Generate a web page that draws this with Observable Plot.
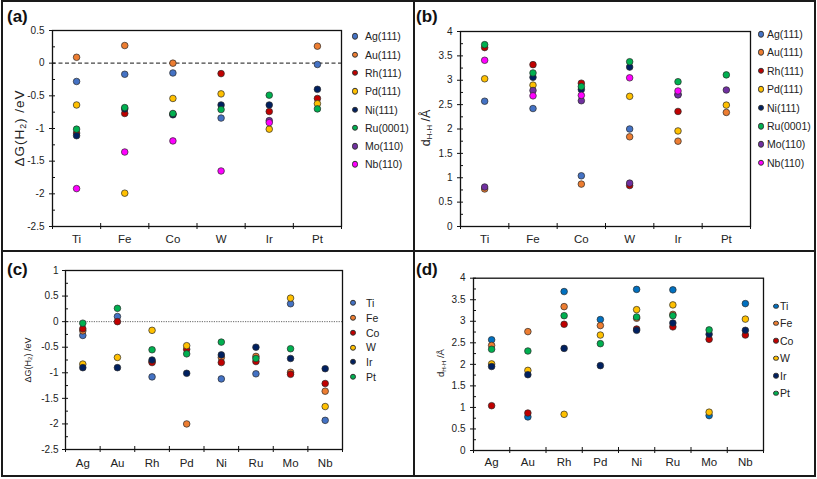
<!DOCTYPE html>
<html><head><meta charset="utf-8">
<script src="https://cdn.jsdelivr.net/npm/d3@7"></script>
<script src="https://cdn.jsdelivr.net/npm/@observablehq/plot@0.6"></script>
<style>
body{margin:0;background:#fff;}
#fig{position:relative;width:817px;height:479px;font-family:"Liberation Sans",Arial,sans-serif;overflow:hidden;background:#fff;}
.panel{position:absolute;}
.panel svg{background:transparent !important;}
.bline{position:absolute;background:#1a1a1a;}
.lab{position:absolute;font-weight:bold;font-size:17px;line-height:1;color:#111;}
.ytitle{position:absolute;transform:translate(-50%,-50%) rotate(-90deg);white-space:nowrap;color:#222;line-height:1;}
.ytitle sub{font-size:65%;vertical-align:-0.25em;line-height:0;}
.leg{position:absolute;display:flex;align-items:center;white-space:nowrap;color:#222;line-height:1;transform:translateY(-50%);}
.leg .m{display:inline-block;border-radius:50%;border:0.7px solid #333;box-sizing:border-box;flex:none;}
</style></head><body><div id="fig"></div>
<script>
// ---------- Panel (a) & (b): categories and series ----------
const catsAB = ["Ti","Fe","Co","W","Ir","Pt"];
const namesAB = ["Ag(111)","Au(111)","Rh(111)","Pd(111)","Ni(111)","Ru(0001)","Mo(110)","Nb(110)"];
const colorsAB = ["#4472C4","#ED7D31","#C00000","#FFC000","#002060","#00B050","#7030A0","#FF00FF"];

// (a) ΔG(H2) /eV  — order Ti, Fe, Co, W, Ir, Pt
const aAg = [-0.28, -0.17, -0.15, -0.84, null, -0.02];
const aAu = [0.09, 0.27, 0.00, null, null, 0.26];
const aRh = [-1.07, -0.77, -0.78, -0.16, -0.74, -0.54];
const aPd = [-0.64, -1.99, -0.54, -0.47, -1.01, -0.62];
const aNi = [-1.11, -0.70, -0.79, -0.64, -0.64, -0.40];
const aRu = [-1.01, -0.68, -0.77, -0.71, -0.49, -0.70];
const aMo = [null, null, null, null, -0.88, null];
const aNb = [-1.92, -1.36, -1.19, -1.65, -0.91, null];

// (b) d(H-H) /Å
const bAg = [2.57, 2.42, 1.04, 2.00, null, null];
const bAu = [0.77, null, 0.87, 1.84, 1.75, 2.34];
const bRh = [3.67, 3.32, 2.94, 0.84, 2.36, null];
const bPd = [3.03, 2.90, null, 2.67, 1.96, 2.49];
const bNi = [null, 3.06, 2.81, 3.27, 2.71, null];
const bRu = [3.73, 3.15, 2.87, 3.38, 2.97, 3.11];
const bMo = [0.81, 2.79, 2.58, 0.89, 2.70, 2.80];
const bNb = [3.41, 2.68, 2.69, 3.05, 2.78, null];

// ---------- Panel (c) & (d) ----------
const catsCD = ["Ag","Au","Rh","Pd","Ni","Ru","Mo","Nb"];
const namesCD = ["Ti","Fe","Co","W","Ir","Pt"];
const colorsC = ["#4472C4","#ED7D31","#C00000","#FFC000","#002060","#00B050"];
const colorsD = ["#0070C0","#ED7D31","#C00000","#FFC000","#002060","#00B050"];

// (c) ΔG(H2) /eV — order Ag, Au, Rh, Pd, Ni, Ru, Mo, Nb
const cTi = [-0.27, 0.10, -1.08, null, -1.12, -1.02, 0.35, -1.93];
const cFe = [-0.18, null, -0.78, -2.00, -0.70, -0.68, -0.99, -1.36];
const cCo = [-0.14, 0.00, -0.80, -0.54, -0.80, -0.78, -1.03, -1.21];
const cW  = [-0.83, -0.70, -0.17, -0.47, null, null, 0.46, -1.66];
const cIr = [-0.90, -0.90, -0.75, -1.01, -0.65, -0.50, -0.72, -0.92];
const cPt = [-0.03, 0.26, -0.55, -0.63, -0.40, -0.72, -0.53, null];

// (d) d(H-H) /Å
const dTi = [2.57, 0.78, 3.69, 3.04, 3.74, 3.73, 0.81, 3.41];
const dFe = [2.44, 2.76, 3.34, 2.90, 3.07, 3.16, null, null];
const dCo = [1.04, 0.87, 2.93, null, 2.82, 2.87, 2.58, 2.68];
const dW  = [2.01, 1.86, 0.84, 2.68, 3.27, 3.38, 0.89, 3.05];
const dIr = [1.95, 1.76, 2.37, 1.97, 2.79, 2.96, 2.70, 2.79];
const dPt = [2.35, 2.31, 3.13, 2.48, 3.10, 3.13, 2.80, null];

const fig = document.getElementById("fig");

function makePanel(o) {
  const n = o.cats.length;
  const data = [];
  o.names.forEach((s, si) => o.values[si].forEach((v, ci) => {
    if (v != null) data.push({i: ci, v, s});
  }));
  const [mt, mr, mb, ml] = o.margins;
  const plotW = o.width - ml - mr, plotH = o.height - mt - mb;
  const xPerPx = n / plotW;
  const yPerPx = (o.yDomain[1] - o.yDomain[0]) / plotH;
  const bounds = d3.range(n + 1).map(k => k - 0.5);
  const minors = o.yMajor.slice(0, -1).map(t => t + o.yStep / 2);
  const marks = [];
  if (o.zero) marks.push(Plot.ruleY([0], o.zero));
  marks.push(
    Plot.ruleY(o.yMajor, {y: d => d, x1: -0.5 - 3 * xPerPx, x2: -0.5 + 3 * xPerPx, stroke: "#111", strokeWidth: 1}),
    Plot.ruleY(minors, {y: d => d, x1: -0.5, x2: -0.5 + 3 * xPerPx, stroke: "#111", strokeWidth: 1}),
    Plot.ruleX(bounds, {x: d => d, y1: o.yDomain[0] - 3 * yPerPx, y2: o.yDomain[0] + 3 * yPerPx, stroke: "#111", strokeWidth: 1}),
    Plot.frame({stroke: "#111", strokeWidth: 1.3}),
    Plot.axisY({ticks: o.yMajor, tickSize: 0, tickPadding: o.yPad, tickFormat: d => String(d), fontSize: o.yFont, label: null}),
    Plot.axisX({ticks: d3.range(n), tickSize: 0, tickPadding: o.xPad, tickFormat: i => o.cats[i], fontSize: o.xFont, label: null}),
    Plot.dot(data, {x: "i", y: "v", fill: "s", r: 3.3, stroke: "#2a2a2a", strokeWidth: 0.7})
  );
  const svg = Plot.plot({
    width: o.width, height: o.height,
    marginTop: mt, marginRight: mr, marginBottom: mb, marginLeft: ml,
    style: {fontFamily: '"Liberation Sans", Arial, sans-serif', color: "#222", background: "transparent"},
    x: {domain: [-0.5, n - 0.5], label: null},
    y: {domain: o.yDomain, label: null},
    color: {domain: o.names, range: o.colors},
    marks
  });
  const wrap = document.createElement("div");
  wrap.className = "panel";
  wrap.style.left = o.left + "px";
  wrap.style.top = o.top + "px";
  wrap.appendChild(svg);
  fig.appendChild(wrap);
}

const ticks05 = (a, b) => d3.range(Math.round((b - a) / 0.5) + 1).map(k => +(a + k * 0.5).toFixed(2));

makePanel({
  cats: catsAB, names: namesAB, colors: colorsAB,
  values: [aAg, aAu, aRh, aPd, aNi, aRu, aMo, aNb],
  yDomain: [-2.5, 0.5], yMajor: ticks05(-2.5, 0.5), yStep: 0.5,
  left: 0, top: 0, width: 414, height: 251, margins: [30, 73, 25, 52],
  zero: {stroke: "#444", strokeDasharray: "4,2.5", strokeWidth: 1.4},
  yFont: 10, xFont: 11.5, yPad: 8, xPad: 8
});
makePanel({
  cats: catsAB, names: namesAB, colors: colorsAB,
  values: [bAg, bAu, bRh, bPd, bNi, bRu, bMo, bNb],
  yDomain: [0, 4], yMajor: ticks05(0, 4), yStep: 0.5,
  left: 414, top: 0, width: 403, height: 251, margins: [31, 67, 25, 46],
  zero: null,
  yFont: 10, xFont: 11.5, yPad: 8, xPad: 8
});
makePanel({
  cats: catsCD, names: namesCD, colors: colorsC,
  values: [cTi, cFe, cCo, cW, cIr, cPt],
  yDomain: [-2.5, 1], yMajor: ticks05(-2.5, 1), yStep: 0.5,
  left: 0, top: 251, width: 414, height: 228, margins: [19, 72, 30, 65],
  zero: {stroke: "#555", strokeDasharray: "1.2,1.2", strokeWidth: 0.9},
  yFont: 10, xFont: 11.5, yPad: 7, xPad: 9
});
makePanel({
  cats: catsCD, names: namesCD, colors: colorsD,
  values: [dTi, dFe, dCo, dW, dIr, dPt],
  yDomain: [0, 4], yMajor: ticks05(0, 4), yStep: 0.5,
  left: 414, top: 251, width: 403, height: 228, margins: [26.7, 54, 29, 59],
  zero: null,
  yFont: 10, xFont: 11.5, yPad: 8, xPad: 7
});

// ---------- figure borders ----------
function line(l, t, w, h) {
  const d = document.createElement("div");
  d.className = "bline";
  Object.assign(d.style, {left: l + "px", top: t + "px", width: w + "px", height: h + "px"});
  fig.appendChild(d);
}
line(1, 0, 815, 2);
line(1, 475, 815, 2);
line(1, 0, 2, 477);
line(814, 0, 2, 477);
line(413, 0, 2, 477);
line(1, 250, 815, 2);

// ---------- panel labels ----------
[["(a)", 7, 8], ["(b)", 416, 8], ["(c)", 7, 261], ["(d)", 416, 261]].forEach(([t, x, y]) => {
  const d = document.createElement("div");
  d.className = "lab"; d.textContent = t;
  d.style.left = x + "px"; d.style.top = y + "px";
  fig.appendChild(d);
});

// ---------- y-axis titles ----------
function ytitle(html, x, y, fs, ls) {
  const d = document.createElement("div");
  d.className = "ytitle"; d.innerHTML = html;
  Object.assign(d.style, {left: x + "px", top: y + "px", fontSize: fs + "px", letterSpacing: (ls || 0) + "px"});
  fig.appendChild(d);
}
ytitle("ΔG(H<sub>2</sub>) /eV", 20, 128, 13.5, 1.0);
ytitle("d<sub>H-H</sub> /Å", 426, 128, 12.5);
ytitle("ΔG(H<sub>2</sub>) /eV", 28, 360, 9);
ytitle("d<sub>H-H</sub> /Å", 441, 363, 9.5);

// ---------- legends ----------
function legend(names, colors, mx, y0, dy, size, tx, fs) {
  names.forEach((nm, k) => {
    const row = document.createElement("div");
    row.className = "leg";
    row.style.left = (mx - size / 2) + "px";
    row.style.top = (y0 + k * dy) + "px";
    row.style.fontSize = fs + "px";
    const m = document.createElement("span");
    m.className = "m";
    Object.assign(m.style, {width: size + "px", height: size + "px", background: colors[k]});
    const t = document.createElement("span");
    t.textContent = nm;
    t.style.marginLeft = (tx - mx - size / 2) + "px";
    row.appendChild(m); row.appendChild(t);
    fig.appendChild(row);
  });
}
legend(namesAB, colorsAB, 355, 36.3, 18.3, 6.5, 365, 10.5);
legend(namesAB, colorsAB, 761, 34, 18.4, 6.5, 767, 10.5);
legend(namesCD, colorsC, 353, 303, 14.8, 6, 366, 10.5);
legend(namesCD, colorsD, 776, 306, 17.4, 5.5, 780, 10.5);
</script>
</body></html>
